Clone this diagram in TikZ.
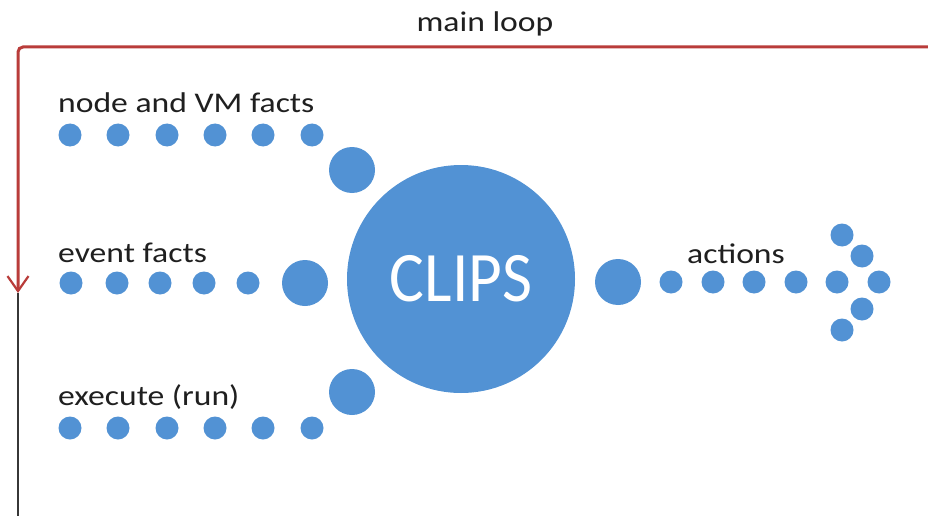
\documentclass[tikz,border=0pt]{standalone}
\usepackage{fontspec}
\setmainfont{Carlito}[FakeStretch=1.18]
\newfontfamily\clipsfont{Carlito}[FakeStretch=0.92]
\usetikzlibrary{arrows.meta}
\definecolor{dotblue}{RGB}{82,146,212}
\definecolor{loopred}{RGB}{185,60,58}
\definecolor{loopgray}{RGB}{55,55,55}
\begin{document}
\begin{tikzpicture}[x=1pt,y=-1pt,
  dot/.style={circle,fill=dotblue,inner sep=0pt,minimum size=23pt},
  bigdot/.style={circle,fill=dotblue,inner sep=0pt,minimum size=46pt},
  lbl/.style={anchor=base west,inner sep=0pt,font=\fontsize{28.5}{30}\selectfont,text=black!88}]
\fill[white] (0,0) rectangle (928,516);
\useasboundingbox (0,0) rectangle (928,516);

% frame (main loop)
\coordinate (tr) at (932,47);
\coordinate (tl) at (18,47);
\coordinate (mid) at (18,293);
\coordinate (bl) at (18,518);
\draw[loopgray,line width=2pt] (mid) -- (bl);
\draw[loopred,line width=3pt,rounded corners=5pt,-{Straight Barb[length=15pt,width=21pt,line width=2.2pt]}] (tr) -- (tl) -- (mid);
\node[anchor=base,inner sep=0pt,font=\fontsize{28.5}{30}\selectfont,text=black!88] (title) at (485,32) {main loop};

% top row
\node[lbl] (t1) at (58,113) {node and VM facts};
\foreach \x [count=\i] in {70,118,167,215,263,312}
  \node[dot] (a\i) at (\x,135) {};
\node[bigdot] (ab) at (352,170) {};

% middle row
\node[lbl] (t2) at (58,262) {event facts};
\foreach \x [count=\i] in {71,117,160,204,248}
  \node[dot] (b\i) at (\x,283) {};
\node[bigdot] (bb) at (305,283) {};

% bottom row
\node[lbl] (t3) at (58,405) {execute (run)};
\foreach \x [count=\i] in {70,118,167,215,263,312}
  \node[dot] (c\i) at (\x,428) {};
\node[bigdot] (cb) at (352,392) {};

% CLIPS
\node[circle,fill=dotblue,inner sep=0pt,minimum size=228pt,text=white,
  font=\clipsfont\fontsize{71}{72}\selectfont] (clips) at (461,279) {CLIPS};

% actions
\node[bigdot] (db) at (618,282) {};
\node[lbl] (t4) at (687,263) {actions};
\foreach \x [count=\i] in {671,713,754,796,837,879}
  \node[dot] (d\i) at (\x,282) {};
\node[dot] (e1) at (842,235) {};
\node[dot] (e2) at (862,256) {};
\node[dot] (e3) at (862,309) {};
\node[dot] (e4) at (842,330) {};
\end{tikzpicture}
\end{document}
